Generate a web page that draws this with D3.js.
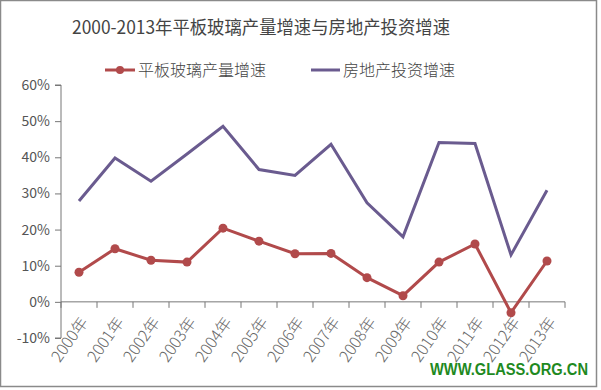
<!DOCTYPE html>
<html><head><meta charset="utf-8">
<script src="https://cdn.jsdelivr.net/npm/d3@7"></script>
<style>body{margin:0;background:#fff}svg{display:block}</style>
</head><body>
<script>
const title = "2000-2013年平板玻璃产量增速与房地产投资增速";
const categories = ["2000年","2001年","2002年","2003年","2004年","2005年","2006年","2007年","2008年","2009年","2010年","2011年","2012年","2013年"];
const glassName = "平板玻璃产量增速";
const glassValues = [8.2, 14.7, 11.5, 11.0, 20.4, 16.8, 13.3, 13.4, 6.7, 1.7, 11.0, 16.0, -3.0, 11.3];
const estateName = "房地产投资增速";
const estateValues = [27.9, 39.8, 33.4, 40.9, 48.6, 36.6, 35.0, 43.6, 27.4, 18.0, 44.1, 43.8, 13.0, 30.9];
const yTicks = [-10, 0, 10, 20, 30, 40, 50, 60];
const watermark = "WWW.GLASS.ORG.CN";

const W = 601, H = 390;
const svg = d3.select("body").append("svg").attr("width", W).attr("height", H);
svg.append("rect").attr("x",0.5).attr("y",0.5).attr("width",596).attr("height",386)
  .attr("fill","#fff").attr("stroke","#8a8a8a").attr("stroke-width",1.5);

const font = "'Noto Sans CJK SC', 'Noto Sans', sans-serif";
svg.append("text").attr("x", 261).attr("y", 34).attr("text-anchor","middle")
  .attr("font-family", "'Noto Sans CJK SC', serif").attr("font-size", 18).attr("fill","#444")
  .attr("textLength", 378).attr("lengthAdjust","spacingAndGlyphs")
  .text(title);

const x = d3.scaleBand().domain(categories).range([61, 565]);
const y = d3.scaleLinear().domain([-10, 60]).range([338, 85]);

// y axis
const ya = svg.append("g").attr("transform","translate(61,0)")
  .call(d3.axisLeft(y).tickValues(yTicks).tickFormat(d => d + "%").tickSize(6).tickPadding(5));
ya.select(".domain").attr("stroke","#777").attr("d", `M-6,${y(60)}H0V${y(-10)}H-6`);
ya.selectAll(".tick line").attr("stroke","#777");
ya.selectAll(".tick text").attr("font-family", font).attr("font-size", 14).attr("fill","#555");

// x axis at 0
const xa = svg.append("g").attr("transform",`translate(0,${y(0)})`)
  .call(d3.axisBottom(x).tickSize(0).tickFormat(""));
xa.select(".domain").attr("stroke","#777").attr("d", `M61,0H565`);
const bounds = categories.map(c => x(c)).concat([565]);
xa.selectAll(".bnd").data(bounds).join("line").attr("class","bnd")
  .attr("x1", d => d).attr("x2", d => d).attr("y1", 0).attr("y2", 6).attr("stroke","#777");
xa.selectAll(".lbl").data(categories).join("text").attr("class","lbl")
  .attr("transform", d => `translate(${x(d) + x.bandwidth()/2 + 5},${17}) rotate(-55)`)
  .attr("text-anchor","end").attr("dy","0.35em")
  .attr("font-family", font).attr("font-size", 16).attr("font-weight", 300).attr("fill","#666").text(d => d);

const cx = d => x(d) + x.bandwidth()/2;
const line = d3.line().x((d,i) => cx(categories[i])).y(d => y(d));

svg.append("path").datum(estateValues).attr("d", line).attr("fill","none")
  .attr("stroke","#6a5b8f").attr("stroke-width",3).attr("stroke-linejoin","miter");
svg.append("path").datum(glassValues).attr("d", line).attr("fill","none")
  .attr("stroke","#b14a4b").attr("stroke-width",3);
svg.selectAll(".pt").data(glassValues).join("circle").attr("class","pt")
  .attr("cx", (d,i) => cx(categories[i])).attr("cy", d => y(d)).attr("r", 4.5).attr("fill","#b14a4b");

// legend
const lg = svg.append("g");
lg.append("line").attr("x1",105).attr("x2",135).attr("y1",70).attr("y2",70).attr("stroke","#b14a4b").attr("stroke-width",3);
lg.append("circle").attr("cx",120).attr("cy",70).attr("r",4).attr("fill","#b14a4b");
lg.append("text").attr("x",138).attr("y",76).attr("font-family",font).attr("font-size",16).attr("font-weight",300).attr("fill","#444").text(glassName);
lg.append("line").attr("x1",311).attr("x2",340).attr("y1",70).attr("y2",70).attr("stroke","#6a5b8f").attr("stroke-width",3);
lg.append("text").attr("x",343).attr("y",76).attr("font-family",font).attr("font-size",16).attr("font-weight",300).attr("fill","#444").text(estateName);

svg.append("text").attr("x",430).attr("y",375).attr("font-family","'Liberation Sans', Arial, sans-serif")
  .attr("font-weight","bold").attr("font-size",16).attr("fill","#1f8a1f")
  .attr("textLength",158).attr("lengthAdjust","spacingAndGlyphs").text(watermark);
</script>
</body></html>
